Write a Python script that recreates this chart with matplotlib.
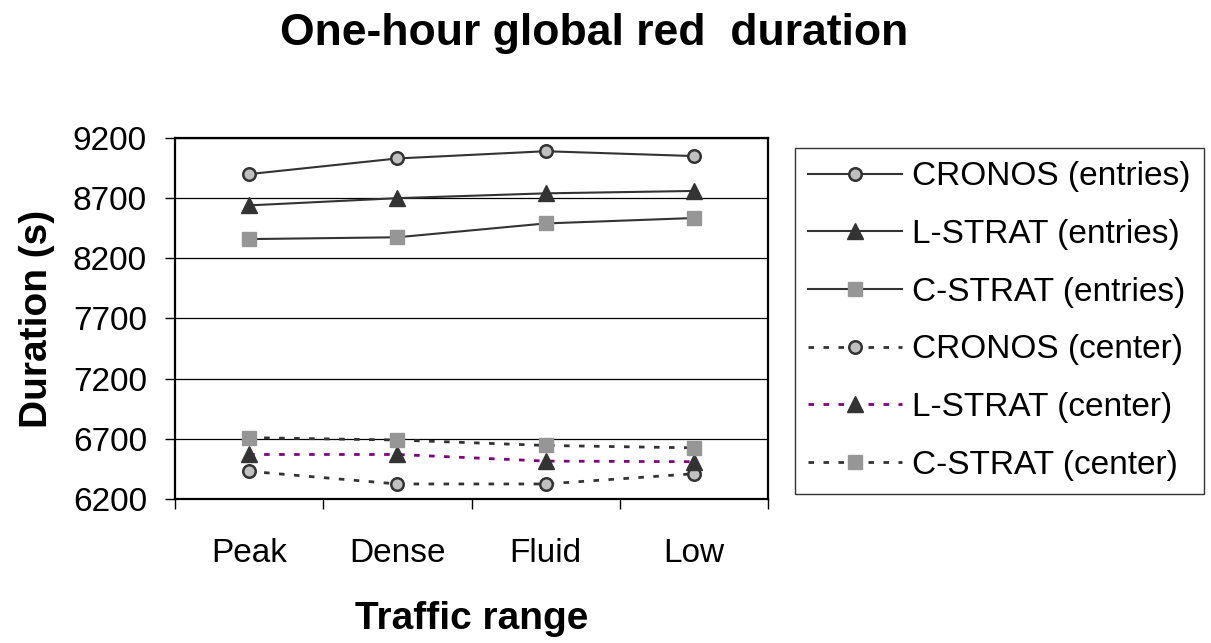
import matplotlib
matplotlib.use("Agg")
import matplotlib.pyplot as plt

plt.rcParams['font.family'] = ['Liberation Sans', 'DejaVu Sans']

# Data
categories = ["Peak", "Dense", "Fluid", "Low"]
cronos_entries = [8900, 9030, 9090, 9050]
lstrat_entries = [8640, 8700, 8740, 8760]
cstrat_entries = [8360, 8375, 8490, 8535]
cronos_center = [6430, 6325, 6325, 6410]
lstrat_center = [6570, 6570, 6515, 6510]
cstrat_center = [6710, 6690, 6645, 6625]
y_ticks = [6200, 6700, 7200, 7700, 8200, 8700, 9200]

W, H = 1211, 643
fig = plt.figure(figsize=(W / 100, H / 100), dpi=100)
ax = fig.add_axes([175 / W, 1 - 499 / H, 593 / W, 361 / H])

x = [i + 0.5 for i in range(len(categories))]
dark = "#333333"
dots = (0, (2.0, 3.4))

ax.plot(x, cronos_entries, color=dark, lw=1.5, marker="o", ms=9,
        mfc="#c0c0c0", mec=dark, mew=1.8, label="CRONOS (entries)")
ax.plot(x, lstrat_entries, color=dark, lw=1.5, marker="^", ms=11,
        mfc=dark, mec=dark, label="L-STRAT (entries)")
ax.plot(x, cstrat_entries, color=dark, lw=1.5, marker="s", ms=9.5,
        mfc="#969696", mec="#969696", label="C-STRAT (entries)")
ax.plot(x, cronos_center, color=dark, lw=2, ls=dots, marker="o", ms=9,
        mfc="#c0c0c0", mec=dark, mew=1.8, label="CRONOS (center)")
ax.plot(x, lstrat_center, color="#800080", lw=2, ls=dots, marker="^", ms=11,
        mfc=dark, mec=dark, label="L-STRAT (center)")
ax.plot(x, cstrat_center, color=dark, lw=2, ls=dots, marker="s", ms=9.5,
        mfc="#969696", mec="#969696", label="C-STRAT (center)")

ax.set_xlim(0, 4)
ax.set_ylim(6200, 9200)
ax.set_yticks(y_ticks)
ax.set_xticks([0, 1, 2, 3, 4])
ax.set_xticklabels([])
ax.set_xticks(x, minor=True)
ax.set_xticklabels(categories, minor=True)
ax.tick_params(axis="x", which="major", direction="out", length=7.2, width=1)
ax.tick_params(axis="x", which="minor", length=0, pad=28, labelsize=24)
ax.tick_params(axis="y", direction="out", length=7.2, width=1, labelsize=24, pad=13)
ax.yaxis.grid(True, color="black", lw=0.9)
ax.set_axisbelow(True)
for sp in ax.spines.values():
    sp.set_linewidth(1.6)
    sp.set_color("black")

ax.set_ylabel("Duration (s)", fontsize=28, fontweight="bold")
ax.yaxis.set_label_coords((55 - 175) / 593, 0.5)
ax.set_xlabel("Traffic range", fontsize=28, fontweight="bold")
ax.xaxis.set_label_coords(0.5, (499 - 601) / 361)
fig.text(594 / W, 1 - 45 / H, "One-hour global red  duration",
         ha="center", va="baseline", fontsize=32, fontweight="bold")

leg = fig.legend(loc="upper left", bbox_to_anchor=(795 / W, 1 - 148 / H),
                 fontsize=24, frameon=True, fancybox=False, edgecolor="black",
                 handlelength=2.8, handletextpad=0.3, labelspacing=0.8,
                 borderpad=0.4, borderaxespad=0)
leg.get_frame().set_linewidth(1)

fig.savefig("out.png", dpi=100)
